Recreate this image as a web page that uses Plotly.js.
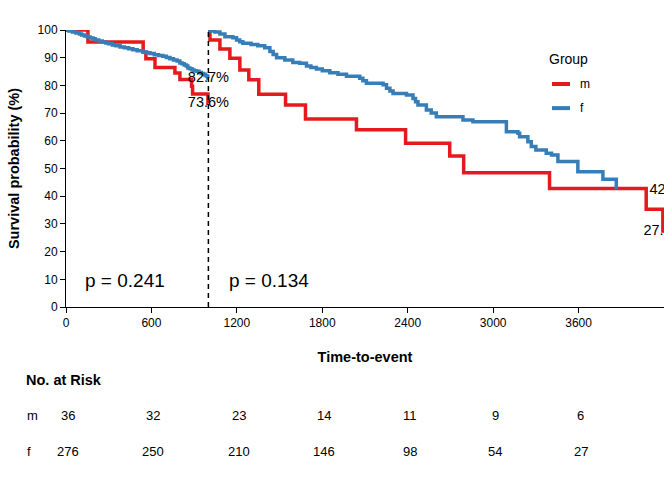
<!DOCTYPE html>
<html>
<head>
<meta charset="utf-8">
<script src="https://cdn.plot.ly/plotly-3.0.1.min.js"></script>
<style>
html, body { margin: 0; padding: 0; background: #ffffff; }
#chart { width: 672px; height: 480px; }
</style>
</head>
<body>
<div id="chart"></div>
<script>
// ---- Data ----
const groups = ["m", "f"];
const groupColors = ["#E41A1C", "#377EB8"];
const landmark = 1000;
const xMax = 4200;

// Group m, before landmark
const timeM1 = [0, 154, 542, 561, 625, 765, 800, 882, 889, 997, 1000];
const survM1 = [100, 95.7, 92.1, 89.6, 86.5, 84.5, 82.1, 79.7, 76.9, 73.6, 73.6];

// Group f, before landmark
const timeF1 = [0, 20, 45, 70, 95, 110, 130, 150, 170, 190, 205, 230, 255, 280, 300, 325, 350, 380, 410, 440,
                470, 500, 540, 565, 590, 620, 650, 680, 705, 730, 755, 780, 800, 815, 830, 845, 856, 870, 885, 900,
                917, 935, 950, 965, 978, 988, 996, 1000];
const survF1 = [100, 99.6, 99.3, 98.9, 98.6, 98.2, 97.8, 97.5, 97.1, 96.8, 96.4, 96.0, 95.7, 95.3, 95.0, 94.6, 94.3, 93.9, 93.6, 93.2,
                92.9, 92.5, 92.1, 91.8, 91.5, 91.1, 90.8, 90.5, 90.1, 89.6, 89.2, 88.8, 88.1, 87.8, 87.4, 87.0, 86.3, 86.0, 85.6, 85.3,
                85.1, 84.7, 84.3, 84.0, 83.6, 83.3, 82.7, 82.7];

// Group m, after landmark
const timeM2 = [1000, 1011, 1081, 1151, 1221, 1284, 1354, 1542, 1682, 2040, 2385, 2695, 2793, 3396, 4075, 4192, 4200];
const survM2 = [100, 96.4, 93.1, 89.8, 85.6, 82.0, 76.8, 72.9, 67.9, 64.0, 59.1, 54.5, 48.5, 42.8, 35.3, 27.4, 27.4];

// Group f, after landmark
const timeF2 = [1000, 1015, 1046, 1081, 1116, 1172, 1198, 1220, 1242, 1300, 1347, 1396, 1432, 1455, 1479, 1537, 1593, 1642, 1689, 1720,
                1759, 1800, 1853, 1910, 1970, 2063, 2085, 2110, 2227, 2251, 2275, 2297, 2391, 2437, 2455, 2472, 2531, 2565, 2601, 2788,
                2858, 3093, 3174, 3186, 3244, 3268, 3300, 3373, 3410, 3455, 3595, 3771, 3865];
const survF2 = [100, 99.6, 99.3, 98.6, 97.6, 97.2, 96.4, 95.8, 95.2, 94.8, 94.3, 93.6, 92.2, 91.2, 90.0, 89.2, 88.3, 88.0, 87.0, 86.5,
                85.9, 85.3, 84.6, 84.0, 83.3, 82.6, 81.7, 80.8, 80.2, 79.0, 78.0, 77.1, 76.5, 75.3, 74.1, 72.9, 71.1, 70.0, 68.7, 67.5,
                66.9, 63.3, 62.7, 61.5, 59.7, 57.9, 56.7, 55.5, 54.9, 52.5, 48.8, 46.1, 42.5];

// Survival labels
const labelTimes = [1000, 1000, 4200, 4200];
const labelSurv = [82.7, 73.6, 42, 27.4];
const labelText = ["82.7%", "73.6%", "42%", "27.4%"];

// p-values
const pTexts = ["p = 0.241", "p = 0.134"];
const pTimes = [414, 1425];
const pSurv = [9.4, 9.4];

// Ticks
const xTicks = [0, 600, 1200, 1800, 2400, 3000, 3600];
const yTicks = [0, 10, 20, 30, 40, 50, 60, 70, 80, 90, 100];

// Number at risk
const riskTimes = [0, 600, 1200, 1800, 2400, 3000, 3600];
const riskM = [36, 32, 23, 14, 11, 9, 6];
const riskF = [276, 250, 210, 146, 98, 54, 27];

// ---- Build chart ----
const FONT = "Liberation Sans, Arial, Helvetica, sans-serif";

function stepTrace(x, y, color) {
  return {
    type: "scatter", mode: "lines", x: x, y: y,
    line: { shape: "hv", color: color, width: 3.5 },
    cliponaxis: false, showlegend: false, hoverinfo: "skip"
  };
}

const traces = [
  stepTrace(timeM1, survM1, groupColors[0]),
  stepTrace(timeF1, survF1, groupColors[1]),
  stepTrace(timeM2, survM2, groupColors[0]),
  stepTrace(timeF2, survF2, groupColors[1]),
  {
    type: "scatter", mode: "text", x: labelTimes, y: labelSurv, text: labelText,
    textposition: "middle center", textfont: { family: FONT, size: 14.5, color: "#000000" },
    cliponaxis: true, showlegend: false, hoverinfo: "skip"
  }
];

const annotations = [];
pTexts.forEach((t, i) => {
  annotations.push({ xref: "x", yref: "y", x: pTimes[i], y: pSurv[i], text: t, showarrow: false,
    font: { family: FONT, size: 19, color: "#000000" }, xanchor: "center", yanchor: "middle" });
});

// Legend (drawn manually)
annotations.push({ xref: "paper", yref: "paper", x: 0.8395, y: 0.895, text: "Group", showarrow: false,
  font: { family: FONT, size: 14, color: "#000000" }, xanchor: "center", yanchor: "middle" });
const legendY = [0.805, 0.718];
const shapes = [];
groups.forEach((g, i) => {
  shapes.push({ type: "line", xref: "paper", yref: "paper", x0: 0.8127, x1: 0.8428, y0: legendY[i], y1: legendY[i],
    line: { color: groupColors[i], width: 4 } });
  annotations.push({ xref: "paper", yref: "paper", x: 0.856, y: legendY[i], text: g, showarrow: false,
    font: { family: FONT, size: 12, color: "#000000" }, xanchor: "left", yanchor: "middle" });
});

// Landmark dashed line
shapes.push({ type: "line", xref: "x", yref: "y", x0: landmark, x1: landmark, y0: 0, y1: 100,
  line: { color: "#000000", width: 1.5, dash: "5px,4px" } });

// Risk table
annotations.push({ xref: "paper", yref: "paper", x: -0.0703, y: -0.2635, text: "<b>No. at Risk</b>", showarrow: false,
  font: { family: FONT, size: 14.5, color: "#000000" }, xanchor: "left", yanchor: "middle" });
const riskRows = [riskM, riskF];
const riskY = [-0.39, -0.52];
groups.forEach((g, i) => {
  annotations.push({ xref: "paper", yref: "paper", x: -0.068, y: riskY[i], text: g, showarrow: false,
    font: { family: FONT, size: 13, color: "#000000" }, xanchor: "left", yanchor: "middle" });
  riskTimes.forEach((t, j) => {
    annotations.push({ xref: "x", yref: "paper", x: t, y: riskY[i], text: String(riskRows[i][j]), showarrow: false,
      xshift: 2, font: { family: FONT, size: 13, color: "#000000" }, xanchor: "center", yanchor: "middle" });
  });
});

const layout = {
  width: 672, height: 480,
  margin: { l: 66, r: 8, t: 30, b: 173 },
  paper_bgcolor: "#ffffff", plot_bgcolor: "#ffffff",
  font: { family: FONT, color: "#000000" },
  showlegend: false,
  xaxis: {
    range: [0, xMax], tickvals: xTicks, ticktext: xTicks.map(String),
    ticks: "outside", ticklen: 5, tickwidth: 1, tickcolor: "#000000",
    showline: true, linecolor: "#000000", linewidth: 1, showgrid: false, zeroline: false,
    tickfont: { family: FONT, size: 12, color: "#000000" },
    title: { text: "<b>Time-to-event</b>", font: { family: FONT, size: 14.5, color: "#000000" }, standoff: 22 },
    automargin: false
  },
  yaxis: {
    range: [0, 100], tickvals: yTicks, ticktext: yTicks.map(String),
    ticks: "outside", ticklen: 5, tickwidth: 1, tickcolor: "#000000",
    showline: true, linecolor: "#000000", linewidth: 1, showgrid: false, zeroline: false,
    tickfont: { family: FONT, size: 12, color: "#000000" },
    title: { text: "<b>Survival probability (%)</b>", font: { family: FONT, size: 14.5, color: "#000000" }, standoff: 14 },
    automargin: false
  },
  annotations: annotations,
  shapes: shapes
};

Plotly.newPlot("chart", traces, layout, { staticPlot: true, displayModeBar: false });
</script>
</body>
</html>
